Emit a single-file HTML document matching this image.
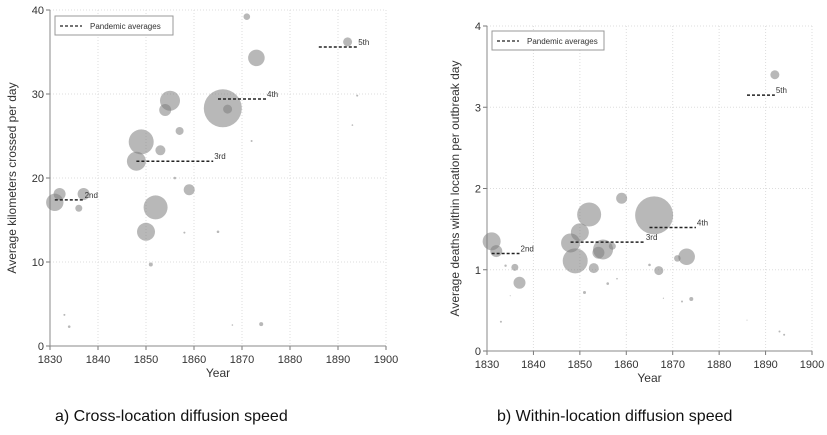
<!DOCTYPE html>
<html><head><meta charset="utf-8"><style>
body{margin:0;background:#fff;width:827px;height:435px;overflow:hidden;font-family:"Liberation Sans",sans-serif}
svg{position:absolute;left:0;top:0}
.cap{position:absolute;top:408px;font-size:16px;color:#111}
</style></head><body>
<svg id="s" width="827" height="435"></svg>
<div class="cap" style="left:55px">a) Cross-location diffusion speed</div>
<div class="cap" style="left:497px">b) Within-location diffusion speed</div>
<script>
const years=[1831,1832,1833,1834,1836,1837,1848,1849,1850,1851,1852,1853,1854,1855,1856,1857,1858,1859,1865,1866,1867,1868,1871,1872,1873,1874,1892,1893,1894];
const kmValues=[17.1,18.1,3.7,2.3,16.4,18.1,22,24.3,13.6,9.7,16.5,23.3,28.1,29.2,20,25.6,13.5,18.6,13.6,28.3,28.2,2.5,39.2,24.4,34.3,2.6,36.2,26.3,29.8];
const kmSizes=[8.7,6,1,1.3,3.5,6,9.5,12.5,9,2,12,5,6,10,1.3,4,1,5.5,1.3,19,4.5,0.8,3.3,1,8.3,2,4.5,0.8,1];
const dYears=[1831,1832,1833,1834,1835,1836,1837,1848,1849,1850,1851,1852,1853,1854,1855,1856,1857,1858,1859,1860,1865,1866,1867,1868,1871,1872,1873,1874,1886,1892,1893,1894];
const dValues=[1.35,1.23,0.36,1.05,0.68,1.03,0.84,1.33,1.11,1.46,0.72,1.68,1.02,1.21,1.25,0.83,1.29,0.89,1.88,0.2,1.06,1.67,0.99,0.65,1.14,0.61,1.16,0.64,0.38,3.4,0.24,0.2];
const dSizes=[9,6,1,1.2,0.5,3.5,6,9.5,12.5,9,1.5,12,5,6,10,1.3,3.5,0.8,5.5,0.4,1.3,19,4.5,0.6,3.3,1,8.3,2,0.5,4.5,1,1];
const avgLabels=["2nd","3rd","4th","5th"];
const avgStart=[1831,1848,1865,1886];
const avgEnd=[1837,1864,1875,1894];
const kmAvg=[17.4,22,29.4,35.6];
const dAvgEnd=[1837,1864,1875,1892];
const dAvg=[1.2,1.34,1.52,3.15];
const xTicks=[1830,1840,1850,1860,1870,1880,1890,1900];
const kmTicks=[0,10,20,30,40];
const dTicks=[0,1,2,3,4];
const NS="http://www.w3.org/2000/svg";
const svg=document.getElementById('s');
function el(t,a,p){const e=document.createElementNS(NS,t);for(const k in a)e.setAttribute(k,a[k]);(p||svg).appendChild(e);return e;}
function chart(o){
  const g=el('g',{});
  
  
  const X=v=>o.x0+(v-1830)/70*(o.x1-o.x0);
  const Y=v=>o.y0-(v/o.ymax)*(o.y0-o.y1);
  xTicks.forEach(t=>{
    const l=el('line',{x1:X(t),x2:X(t),y1:o.y1,y2:o.y0,stroke:'#ddd','stroke-dasharray':'1,2'},g);
    
    el('line',{x1:X(t),x2:X(t),y1:o.y0,y2:o.y0+4,stroke:'#777'},g);
    const tx=el('text',{x:X(t),y:o.y0+17,'text-anchor':'middle','font-size':11,fill:'#333'},g);
    tx.textContent=t;
  });
  o.ticks.forEach(t=>{
    el('line',{x1:o.x0,x2:o.x1,y1:Y(t),y2:Y(t),stroke:'#ddd','stroke-dasharray':'1,2'},g);
    el('line',{x1:o.x0-4,x2:o.x0,y1:Y(t),y2:Y(t),stroke:'#777'},g);
    const tx=el('text',{x:o.x0-6,y:Y(t)+4,'text-anchor':'end','font-size':11,fill:'#333'},g);
    tx.textContent=t;
  });
  el('line',{x1:o.x0,x2:o.x0,y1:o.y1,y2:o.y0,stroke:'#888'},g);
  el('line',{x1:o.x0,x2:o.x1,y1:o.y0,y2:o.y0,stroke:'#888'},g);
  o.xs.forEach((yr,i)=>{
    const c=el('circle',{cx:X(yr),cy:Y(o.vals[i]),r:o.sizes[i],fill:'rgba(125,125,125,0.55)'},g);
    
  });
  avgLabels.forEach((lb,i)=>{
    const l=el('line',{x1:X(avgStart[i]),x2:X(o.avgEnd[i]),y1:Y(o.avg[i]),y2:Y(o.avg[i]),stroke:'#222','stroke-width':1.5,'stroke-dasharray':'3,2'},g);
    
    const t=el('text',{x:X(o.avgEnd[i])+1,y:Y(o.avg[i])-2,'font-size':8,fill:'#333'},g);
    t.textContent=lb;
  });
  const lg=el('g',{},g);
  el('rect',{x:o.lx,y:o.ly,width:o.lw,height:19,fill:'#fff',stroke:'#999'},lg);
  el('line',{x1:o.lx+5,x2:o.lx+27,y1:o.ly+10,y2:o.ly+10,stroke:'#222','stroke-width':1.2,'stroke-dasharray':'3,2'},lg);
  const lt=el('text',{x:o.lx+35,y:o.ly+13,'font-size':8,fill:'#333'},lg);lt.textContent='Pandemic averages';
  const xt=el('text',{x:(o.x0+o.x1)/2,y:o.y0+31,'text-anchor':'middle','font-size':12,fill:'#333'},g);
  xt.textContent='Year';
  const yt=el('text',{x:0,y:0,'text-anchor':'middle','font-size':12,fill:'#333',transform:`translate(${o.yx},${(o.y0+o.y1)/2}) rotate(-90)`},g);
  yt.textContent=o.ytitle;
}
chart({name:'chart-a',x0:50,x1:386,y0:346,y1:10,ymax:40,ticks:kmTicks,xs:years,vals:kmValues,sizes:kmSizes,avg:kmAvg,avgEnd:avgEnd,lx:55,ly:16,lw:118,yx:16,ytitle:'Average kilometers crossed per day'});
chart({name:'chart-b',x0:487,x1:812,y0:351,y1:26,ymax:4,ticks:dTicks,xs:dYears,vals:dValues,sizes:dSizes,avg:dAvg,avgEnd:dAvgEnd,lx:492,ly:31,lw:112,yx:459,ytitle:'Average deaths within location per outbreak day'});
</script>
</body></html>
